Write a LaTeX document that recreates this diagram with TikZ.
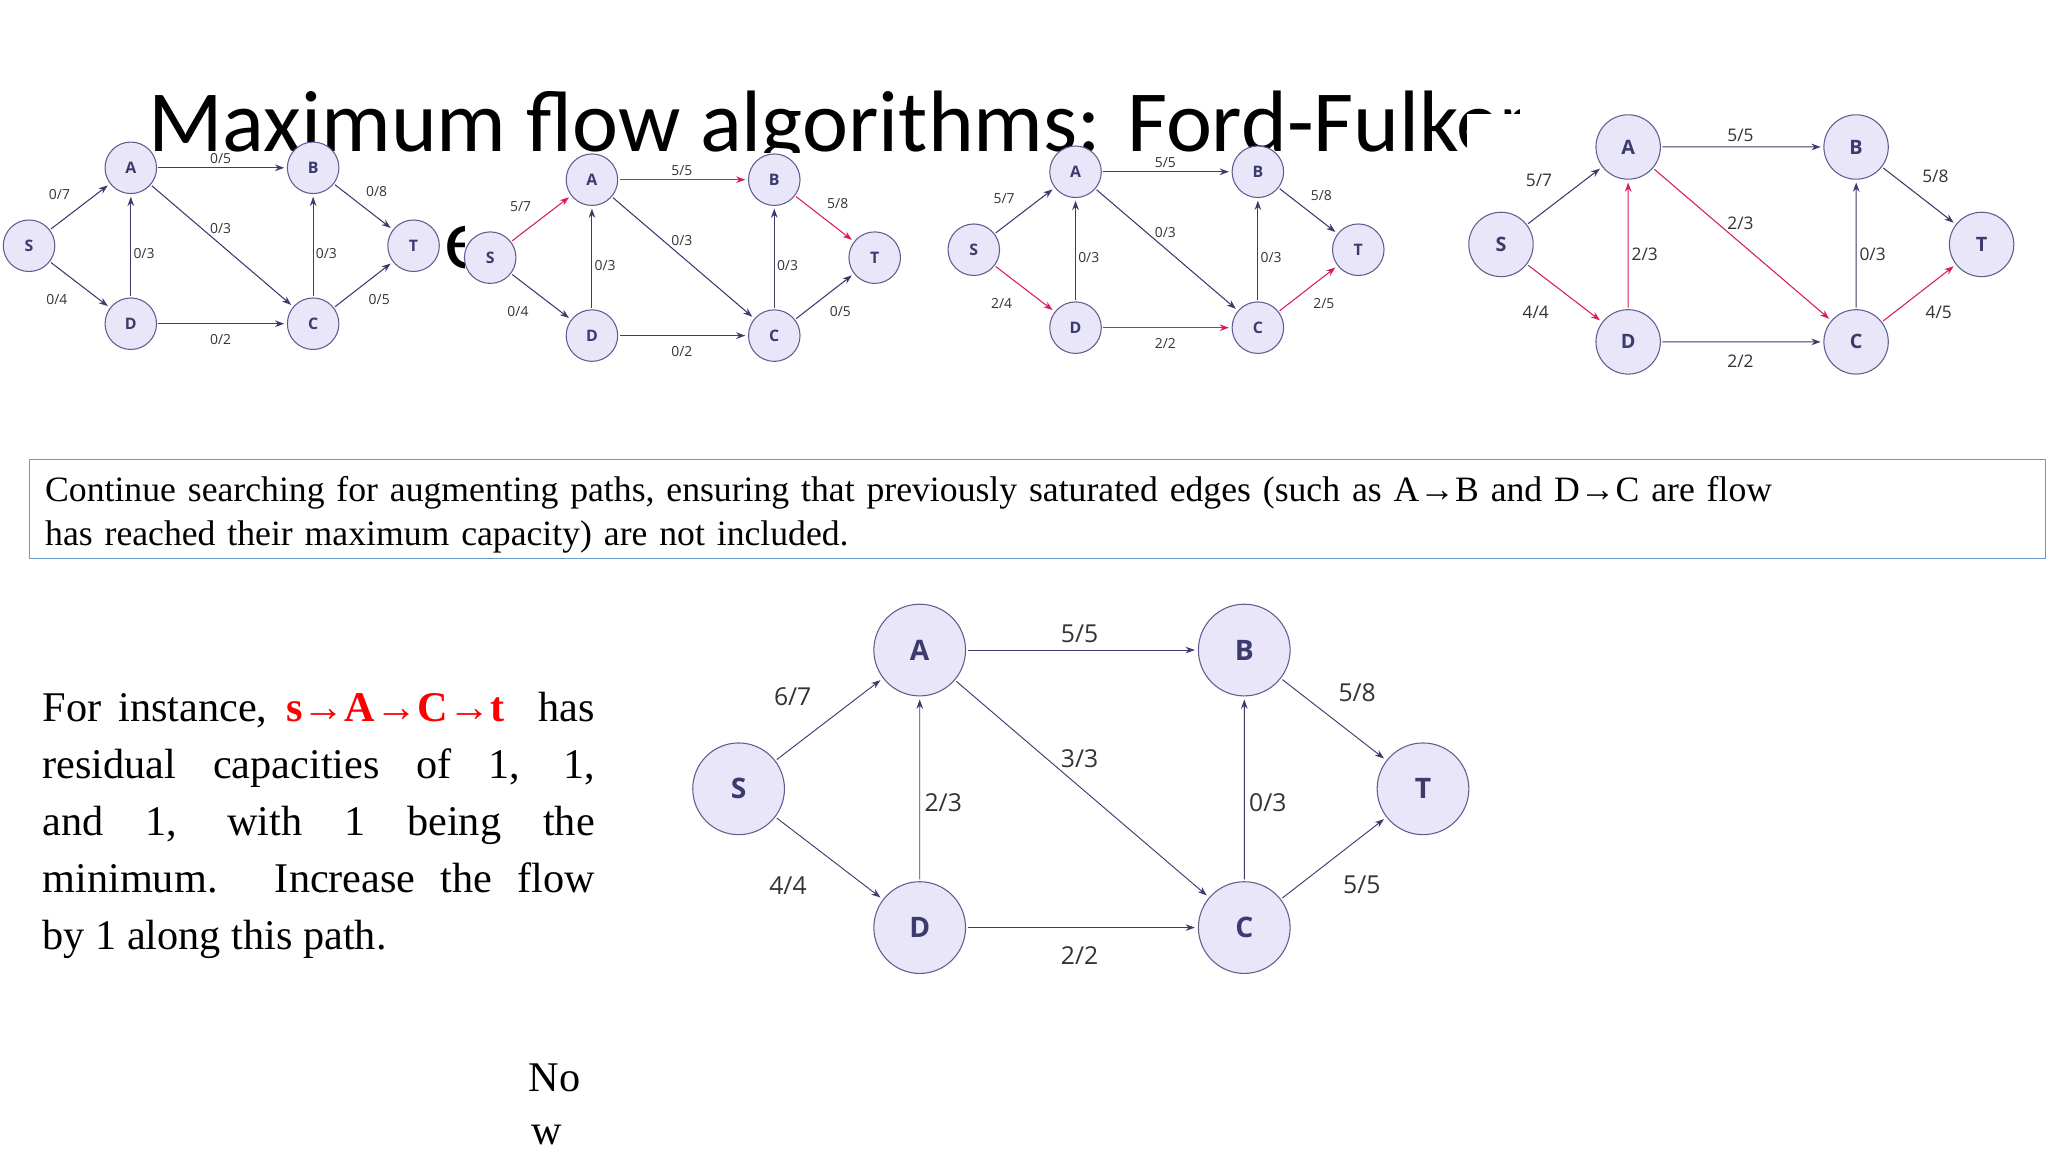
\documentclass[tikz,border=0pt]{standalone}
\usepackage{fontspec}
\setmainfont{Liberation Serif}
\newfontfamily\titlefont{Carlito}
\newfontfamily\gfont{Open Sans}
\usetikzlibrary{arrows.meta}
\definecolor{navy}{HTML}{3B3B6E}
\definecolor{pinkred}{HTML}{D81B60}
\definecolor{nfill}{HTML}{E8E6F8}
\definecolor{nline}{HTML}{5E5E8E}
\definecolor{boxblue}{HTML}{6A9AD0}
\tikzset{
  gnode/.style={circle,draw=nline,fill=nfill,line width=0.8pt,minimum size=39pt,inner sep=0pt,text=navy,font=\gfont\bfseries\fontsize{12}{12}\selectfont},
  edge/.style={draw=navy,line width=0.8pt,-{Stealth[length=7pt,width=5pt]},shorten >=2pt,shorten <=1pt},
  hot/.style={draw=pinkred},
  elab/.style={inner sep=0pt,text=black!80,font=\gfont\fontsize{10.5}{11}\selectfont},
  eSA/.style={},eAB/.style={},eBT/.style={},eAC/.style={},eDA/.style={},eCB/.style={},eSD/.style={},eDC/.style={},eCT/.style={}
}
\newcommand\fgraph[9]{%
  \node[gnode] (S) at (0,0) {S};
  \node[gnode] (A) at (77,59) {A};
  \node[gnode] (B) at (215,59) {B};
  \node[gnode] (T) at (291,0) {T};
  \node[gnode] (D) at (77,-59) {D};
  \node[gnode] (C) at (215,-59) {C};
  \draw[edge,eSA] (S) -- (A);
  \draw[edge,eAB] (A) -- (B);
  \draw[edge,eBT] (B) -- (T);
  \draw[edge,eAC] (A) -- (C);
  \draw[edge,eDA] (D) -- (A);
  \draw[edge,eCB] (C) -- (B);
  \draw[edge,eSD] (S) -- (D);
  \draw[edge,eDC] (D) -- (C);
  \draw[edge,eCT] (C) -- (T);
  \node[elab] (lSA) at (23,39) {#1};
  \node[elab] (lAB) at (145,66) {#2};
  \node[elab] (lBT) at (263,41) {#3};
  \node[elab] (lAC) at (145,13) {#4};
  \node[elab] (lDA) at (87,-6) {#5};
  \node[elab] (lCB) at (225,-6) {#6};
  \node[elab] (lSD) at (21,-41) {#7};
  \node[elab] (lDC) at (145,-71) {#8};
  \node[elab] (lCT) at (265,-41) {#9};
}
\begin{document}
\begin{tikzpicture}[x=1pt,y=1pt]
\useasboundingbox[fill=white] (0,0) rectangle (1550,-872);
% title (partly hidden by the graph pictures)
\node[anchor=base west,inner sep=0pt,font=\titlefont\fontsize{66}{70}\selectfont] (title) at (112,-115) {Maximum flow algorithms: Ford-Fulkerson};
\node[anchor=base west,inner sep=0pt,font=\titlefont\fontsize{66}{70}\selectfont] (title2) at (336,-203) {e};
\fill[white] (0,-116) rectangle (338,-300);
\fill[white] (352,-116) rectangle (1110,-300);
\fill[white] (1110,-86) rectangle (1550,-300);
\fill[white] (1150,-40) rectangle (1550,-90);
% graphs
\begin{scope}[shift={(22,-186)},name prefix=ga-]
\fgraph{0/7}{0/5}{0/8}{0/3}{0/3}{0/3}{0/4}{0/2}{0/5}
\end{scope}
\begin{scope}[shift={(371,-195)},name prefix=gb-,eSA/.style=hot,eAB/.style=hot,eBT/.style=hot]
\fgraph{5/7}{5/5}{5/8}{0/3}{0/3}{0/3}{0/4}{0/2}{0/5}
\end{scope}
\begin{scope}[shift={(737,-189)},name prefix=gc-,eSD/.style=hot,eDC/.style=hot,eCT/.style=hot]
\fgraph{5/7}{5/5}{5/8}{0/3}{0/3}{0/3}{2/4}{2/2}{2/5}
\end{scope}
\begin{scope}[shift={(1136,-185)},scale=1.25,transform shape,name prefix=gd-,eSD/.style=hot,eDA/.style=hot,eAC/.style=hot,eCT/.style=hot]
\fgraph{5/7}{5/5}{5/8}{2/3}{2/3}{0/3}{4/4}{2/2}{4/5}
\end{scope}
\begin{scope}[shift={(559,-597)},scale=1.78,transform shape,name prefix=ge-,edge/.append style={line width=0.7pt}]
\fgraph{6/7}{5/5}{5/8}{3/3}{2/3}{0/3}{4/4}{2/2}{5/5}
\end{scope}
% text box
\draw[boxblue,line width=0.8pt] (22,-348) rectangle (1548,-423);
\node[anchor=north west,inner sep=0pt,text width=1420pt,align=left,font=\fontsize{27}{34}\selectfont] (boxtext) at (34,-360)
  {Continue searching for augmenting paths, ensuring that previously saturated edges (such as A→B and D→C are flow\\ has reached their maximum capacity) are not included.};
% paragraph
\node[anchor=north west,inner sep=0pt,text width=418pt,align=justify,font=\fontsize{32}{43}\selectfont] (para) at (32,-524)
  {\hyphenpenalty=10000 For instance, {\color{red}\bfseries s→A→C→t} \ has\linebreak residual capacities of 1, 1,\linebreak and 1, with 1 being the\linebreak minimum. Increase the flow\linebreak by 1 along this path.};
\node[anchor=base west,inner sep=0pt,font=\fontsize{32}{32}\selectfont] (no) at (400,-826) {No};
\node[anchor=base west,inner sep=0pt,font=\fontsize{32}{32}\selectfont] (w) at (402,-866) {w};
\end{tikzpicture}
\end{document}
